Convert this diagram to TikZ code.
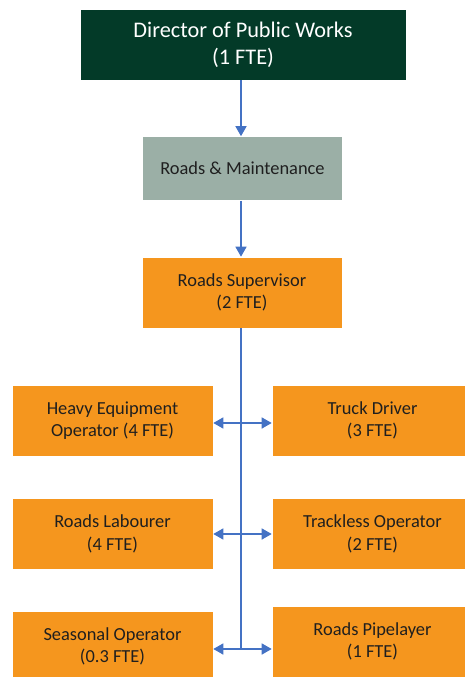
\documentclass[tikz,border=0pt]{standalone}
\usepackage{fontspec}
\setmainfont{Carlito}
\usepackage{tikz}
\usetikzlibrary{arrows.meta}

\definecolor{darkgreen}{HTML}{033A28}
\definecolor{sage}{HTML}{9BAFA6}
\definecolor{roadorange}{HTML}{F5961E}
\definecolor{linkblue}{HTML}{4472C4}
\definecolor{txtgrey}{HTML}{1F1F1F}

\tikzset{
  unit/.style={rectangle, inner sep=0pt, align=center, draw=white, line width=0.6pt,
    text=txtgrey, font=\fontsize{18.4}{22.5}\selectfont},
  topbox/.style={unit, fill=darkgreen, text=white, minimum width=326pt, minimum height=71pt,
    font=\fontsize{22.3}{27}\selectfont},
  deptbox/.style={unit, fill=sage, minimum width=200pt, minimum height=64pt},
  rolebox/.style={unit, fill=roadorange, minimum width=201pt, minimum height=71pt},
  link/.style={draw=linkblue, line width=1.5pt},
  linkarrow/.style={link, -{Triangle[width=11pt,length=10pt]}}
}

\begin{document}
\begin{tikzpicture}[x=1pt, y=-1pt]
    \useasboundingbox (0,0) rectangle (465,677);

    \node[topbox] (director) at (243,44.5) {Director of Public Works\\(1 FTE)};
    \node[deptbox] (roads) at (242.5,168.5) {Roads \& Maintenance};
    \node[rolebox, minimum width=200pt] (supervisor) at (242,292.5) {Roads Supervisor\\(2 FTE)};

    \node[rolebox] (heavy) at (112.5,420.5) {Heavy Equipment\\Operator (4 FTE)};
    \node[rolebox] (truck) at (372.5,420.5) {Truck Driver\\(3 FTE)};
    \node[rolebox] (labourer) at (112.5,534) {Roads Labourer\\(4 FTE)};
    \node[rolebox] (trackless) at (372.5,534) {Trackless Operator\\(2 FTE)};
    \node[rolebox] (seasonal) at (112.5,646.5) {Seasonal Operator\\(0.3 FTE)};
    \node[rolebox] (pipelayer) at (372.5,641.5) {Roads Pipelayer\\(1 FTE)};

    \draw[linkarrow] (director.south -| 241,0) -- (roads.north -| 241,0);
    \draw[linkarrow] (roads.south -| 241,0) -- (supervisor.north -| 241,0);

    \coordinate (j1) at (241,423);
    \coordinate (j2) at (241,534);
    \coordinate (j3) at (241,649);
    \draw[link] (supervisor.south -| j1) -- (j3);

    \draw[linkarrow] (j1) -- (heavy.east |- j1);
    \draw[linkarrow] (j1) -- (truck.west |- j1);
    \draw[linkarrow] (j2) -- (labourer.east |- j2);
    \draw[linkarrow] (j2) -- (trackless.west |- j2);
    \draw[linkarrow] (j3) -- (seasonal.east |- j3);
    \draw[linkarrow] (j3) -- (pipelayer.west |- j3);
\end{tikzpicture}
\end{document}
